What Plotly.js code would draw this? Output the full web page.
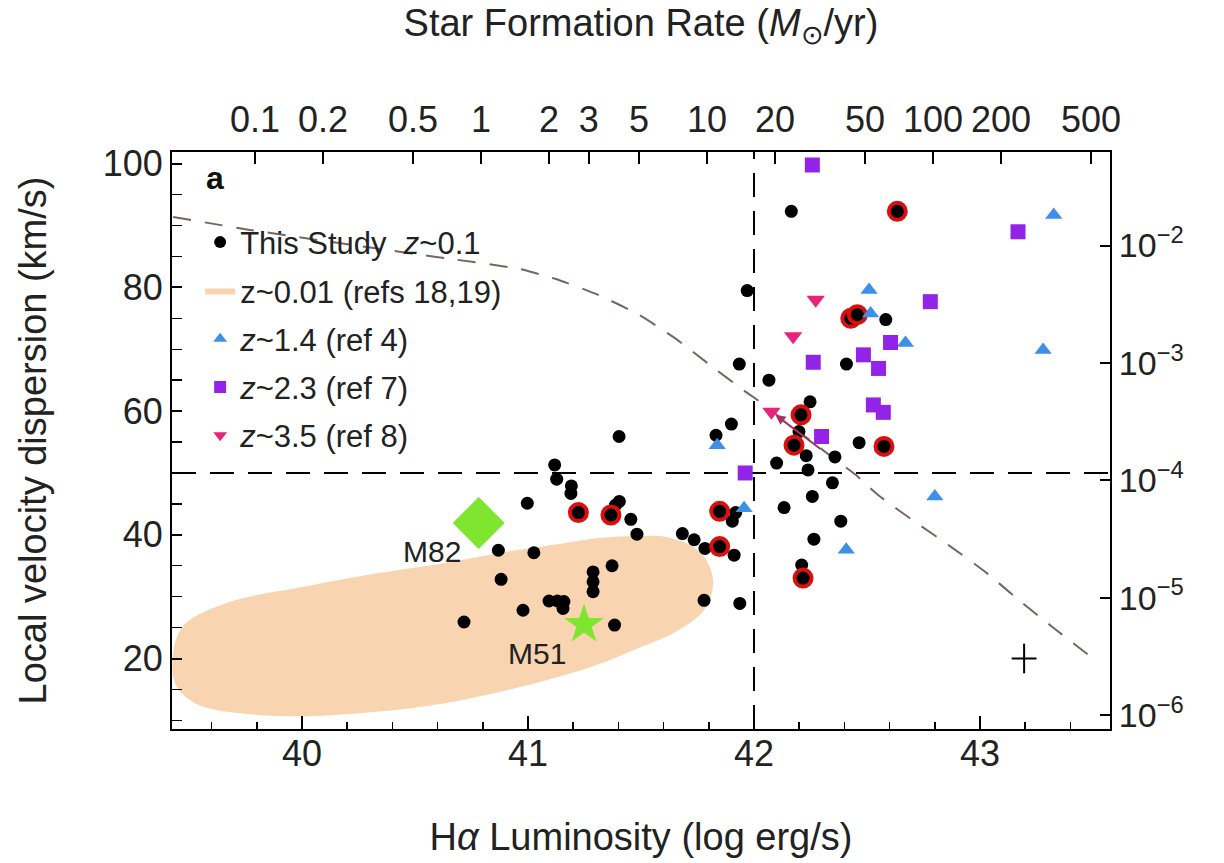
<!DOCTYPE html>
<html>
<head>
<meta charset="utf-8">
<script src="https://cdn.plot.ly/plotly-3.0.1.min.js"></script>
<style>html,body{margin:0;padding:0;background:#fff;}#chart{width:1224px;height:863px;}</style>
</head>
<body>
<div id="chart"></div>
<script>
// ---- data ----
// This study z~0.1 : plain black points  [log L(Halpha), sigma km/s]
const studyX = [42.165,41.970,42.583,42.409,41.935,42.066,42.248,41.900,41.403,41.832,42.199,42.465,42.231,42.358,42.100,42.239,42.347,42.258,42.133,41.919,41.904,42.384,42.265,41.683,41.735,41.783,41.912,42.211,41.779,41.937,41.118,41.127,41.192,41.190,40.997,41.404,41.387,41.455,41.482,40.869,41.026,40.881,41.372,41.288,41.288,41.288,41.093,41.130,41.159,41.155,40.978,40.717,41.383];
const studyY = [92.3,79.5,74.8,67.6,67.6,65.0,61.5,57.9,55.9,56.1,56.7,54.9,52.8,52.6,51.6,50.5,48.4,46.2,44.4,43.6,42.2,42.2,39.3,40.2,39.2,37.8,36.7,35.1,29.4,28.9,51.3,49.0,47.9,46.7,45.1,45.4,44.8,42.5,40.1,37.5,37.1,32.8,35.0,34.0,32.4,30.8,29.3,29.3,29.2,28.1,27.8,25.9,25.4];
// This study, highlighted (red ring)
const ringX = [42.634,42.428,42.457,42.208,42.177,42.575,41.848,41.848,42.217,41.223,41.367];
const ringY = [92.3,75.0,75.6,59.4,54.5,54.3,43.8,38.1,33.0,43.6,43.2];
// z~1.4 (ref 4)
const z14X = [43.326,42.509,42.516,42.670,43.279,41.837,41.956,42.800,42.408];
const z14Y = [91.7,79.6,75.8,71.0,69.9,54.5,44.3,46.2,37.6];
// z~2.3 (ref 7)
const z23X = [42.258,43.168,42.780,42.604,42.262,42.484,42.551,42.528,42.572,42.299,41.961];
const z23Y = [99.8,89.0,77.7,71.1,67.9,69.1,66.9,61.0,59.8,55.9,50.0];
// z~3.5 (ref 8)
const z35X = [42.273,42.173,42.077];
const z35Y = [78.0,72.1,59.9];
// arrow tail for the last z~3.5 point
const arrowTail = [42.301, 53.7];
// local galaxies z~0.01 (refs 18,19) region outline
const localX = [39.429,39.478,39.681,40.000,40.314,40.633,40.872,41.137,41.314,41.491,41.611,41.739,41.801,41.819,41.779,41.668,41.491,41.265,40.947,40.633,40.314,40.013,39.681,39.527,39.442,39.429];
const localY = [20.55,25.40,29.13,31.55,33.66,35.44,37.06,38.51,39.48,39.81,39.64,37.86,35.11,31.88,27.83,24.60,21.68,18.45,15.21,12.78,11.33,10.68,11.33,12.78,15.70,20.55];
// named galaxies
const galNames = ['M82','M51'];
const galX = [40.782, 41.248];
const galY = [41.9, 25.5];
const galLabelX = [40.577, 41.039];
const galLabelY = [37.3, 20.8];
// dashed model curve
const curveX = [39.43,39.77,40.52,40.68,40.96,41.12,41.31,41.49,41.65,41.80,41.96,42.00,42.38,42.45,42.55,42.72,42.87,43.03,43.17,43.32,43.50];
const curveY = [91.4,89.3,85.3,84.5,83.0,81.4,78.8,75.6,71.8,67.6,63.2,62.2,51.6,49.7,46.4,41.9,38.1,33.8,29.5,25.1,20.0];
// representative error
const errX = [43.195], errY = [20.0], errDX = [0.055], errDY = [2.4];
// reference lines
const lumCut = 42, sigCut = 50;
// ticks
const lumTicks = [40,41,42,43];
const sigTicks = [20,40,60,80,100];
const sfrTicks = [0.1,0.2,0.5,1,2,3,5,10,20,50,100,200,500];
const sfrLabels = ['0.1','0.2','0.5','1','2','3','5','10','20','50','100','200','500'];
const rightTicks = [1e-6,1e-5,1e-4,1e-3,1e-2];
const rightLabels = ['10<sup>−6</sup>','10<sup>−5</sup>','10<sup>−4</sup>','10<sup>−3</sup>','10<sup>−2</sup>'];

// ---- styling ----
const FONT = 'Liberation Sans, Arial, sans-serif';
const TXT = '#222';
const xRange = [39.425, 43.575];
const yRange = [8.6, 101.9];
const sfrRange = [-1.367, 2.783];
const rightRange = [-6.119, -1.203];

const traces = [
  {x: localX, y: localY, mode:'lines', fill:'toself', fillcolor:'#f8d5b0', line:{width:0, shape:'spline', smoothing:1, color:'#f8d5b0'},
   name:'z~0.01 (refs 18,19)', legendgroup:'b', legendrank:2, hoverinfo:'skip'},
  {x: curveX, y: curveY, mode:'lines', line:{color:'#75675e', width:2, dash:'18px,14px', shape:'spline', smoothing:0.6}, showlegend:false, hoverinfo:'skip'},
  {x: studyX, y: studyY, mode:'markers', marker:{color:'#000', size:13}, name:'This Study  <i>z</i>~0.1', legendgroup:'a', legendrank:1},
  {x: ringX, y: ringY, mode:'markers', marker:{color:'#000', size:17, line:{color:'#d81010', width:4}}, showlegend:false},
  {x: z14X, y: z14Y, mode:'markers', marker:{color:'#3d8fe8', size:15, symbol:'triangle-up'}, name:'<i>z</i>~1.4 (ref 4)', legendgroup:'c', legendrank:3},
  {x: z23X, y: z23Y, mode:'markers', marker:{color:'#9224e8', size:15, symbol:'square'}, name:'<i>z</i>~2.3 (ref 7)', legendgroup:'d', legendrank:4},
  {x: z35X, y: z35Y, mode:'markers', marker:{color:'#e8247a', size:16, symbol:'triangle-down'}, name:'<i>z</i>~3.5 (ref 8)', legendgroup:'e', legendrank:5},
  {x: [galX[0]], y: [galY[0]], mode:'markers', marker:{color:'#80e52e', size:40, symbol:'diamond'}, showlegend:false, name:galNames[0]},
  {x: [galX[1]], y: [galY[1]], mode:'markers', marker:{color:'#80e52e', size:30, symbol:'star'}, showlegend:false, name:galNames[1]},
  {x: errX, y: errY, mode:'markers', marker:{opacity:0, size:2}, showlegend:false, hoverinfo:'skip',
   error_x:{type:'data', array:errDX, width:0, thickness:2, color:'#000'},
   error_y:{type:'data', array:errDY, width:0, thickness:2, color:'#000'}},
  {x:[1], y:[1e-4], xaxis:'x2', yaxis:'y2', mode:'markers', marker:{opacity:0}, showlegend:false, hoverinfo:'skip'}
];

const layout = {
  width:1224, height:863,
  margin:{l:172, r:114, t:152, b:134},
  paper_bgcolor:'#fff', plot_bgcolor:'#fff',
  font:{family:FONT, color:TXT},
  showlegend:true,
  legend:{x:0.03, y:0.89, xanchor:'left', yanchor:'top', bgcolor:'rgba(0,0,0,0)', font:{size:31, color:TXT},
          tracegroupgap:5, traceorder:'grouped', itemsizing:'constant'},
  xaxis:{range:xRange, tickvals:lumTicks, ticks:'inside', ticklen:13, tickwidth:2, tickcolor:'#000',
         minor:{dtick:0.2, ticks:'inside', ticklen:7, tickwidth:1.5, tickcolor:'#000'},
         showline:true, linecolor:'#000', linewidth:2, showgrid:false, zeroline:false,
         tickfont:{size:36, color:TXT}, ticklabelstandoff:-8,
         title:{text:'H<i>α</i> Luminosity (log erg/s)', font:{size:38, color:TXT}, standoff:50}},
  yaxis:{range:yRange, tickvals:sigTicks, ticks:'inside', ticklen:10, tickwidth:2, tickcolor:'#000',
         minor:{dtick:5, ticks:'inside', ticklen:10, tickwidth:1.5, tickcolor:'#000'},
         showline:true, linecolor:'#000', linewidth:2, showgrid:false, zeroline:false,
         tickfont:{size:36, color:TXT},
         title:{text:'Local velocity dispersion (km/s)', font:{size:38, color:TXT}, standoff:44}},
  xaxis2:{type:'log', overlaying:'x', side:'top', anchor:'y', range:sfrRange, tickvals:sfrTicks, ticktext:sfrLabels,
          ticks:'inside', ticklen:12, tickwidth:2, tickcolor:'#000', showline:true, linecolor:'#000', linewidth:2,
          showgrid:false, zeroline:false, tickfont:{size:36, color:TXT}, ticklabelstandoff:4,
          title:{text:'Star Formation Rate (<i>M</i><sub>⊙</sub>/yr)', font:{size:38, color:TXT}, standoff:50}},
  yaxis2:{type:'log', overlaying:'y', side:'right', anchor:'x', range:rightRange, tickvals:rightTicks, ticktext:rightLabels,
          ticks:'inside', ticklen:10, tickwidth:2, tickcolor:'#000', showline:true, linecolor:'#000', linewidth:2,
          showgrid:false, zeroline:false, tickfont:{size:34, color:TXT}},
  shapes:[
    {type:'line', xref:'x', yref:'y domain', x0:lumCut, x1:lumCut, y0:0, y1:1, layer:'below', line:{color:'#000', width:2, dash:'24px,14px'}},
    {type:'line', xref:'x domain', yref:'y', x0:0, x1:1, y0:sigCut, y1:sigCut, layer:'below', line:{color:'#000', width:2, dash:'24px,14px'}}
  ],
  annotations:[
    {xref:'paper', yref:'paper', x:0.046, y:0.955, xanchor:'center', yanchor:'middle', text:'<b>a</b>', showarrow:false, font:{size:32, color:'#111'}},
    {xref:'x', yref:'y', x:galLabelX[0], y:galLabelY[0], text:galNames[0], showarrow:false, font:{size:30, color:TXT}},
    {xref:'x', yref:'y', x:galLabelX[1], y:galLabelY[1], text:galNames[1], showarrow:false, font:{size:30, color:TXT}},
    {xref:'x', yref:'y', axref:'x', ayref:'y', x:z35X[2], y:z35Y[2], ax:arrowTail[0], ay:arrowTail[1], text:'',
     showarrow:true, arrowhead:2, arrowsize:1, arrowwidth:2, arrowcolor:'#a8325f', standoff:5}
  ]
};

Plotly.newPlot('chart', traces, layout, {staticPlot:true, displayModeBar:false});
</script>
</body>
</html>
